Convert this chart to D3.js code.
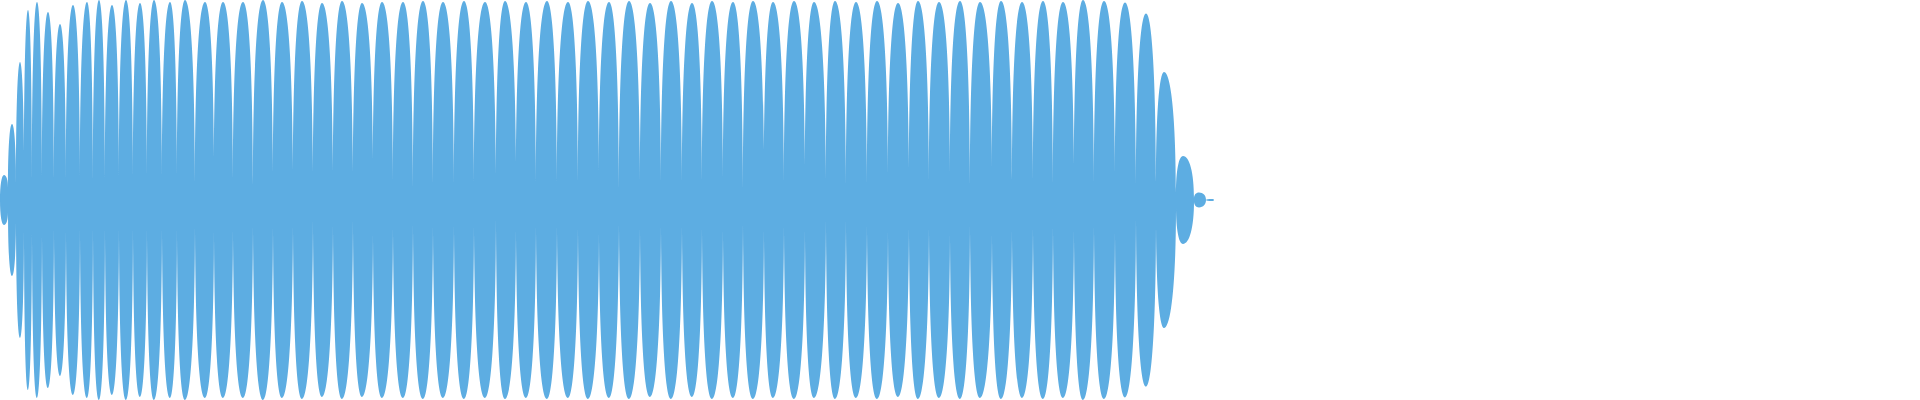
<!DOCTYPE html>
<html><head><meta charset="utf-8">
<script src="https://cdn.jsdelivr.net/npm/d3@7"></script>
<style>html,body{margin:0;padding:0;background:#fff;overflow:hidden}</style>
</head><body><svg id="chart" width="1920" height="400"></svg>
<script>
// Waveform: sample column of each trough (lobe boundary) and of each lobe peak,
// with normalised amplitude (0..1) at those points.
const troughX = [0, 8, 16, 24, 32, 42, 54, 66, 80, 93, 105, 119, 133, 147, 162, 177, 195,
  214, 233, 253, 273, 293, 313, 333, 353, 373, 393,
  413, 433, 454, 474, 496, 516, 536, 557, 578, 599, 619, 640, 661, 682, 702, 723,
  743, 764, 784, 805, 826, 846, 867, 888, 909, 929, 950, 970, 992, 1012, 1033, 1053,
  1074, 1094, 1115, 1136, 1156, 1176, 1194, 1206, 1214];
const troughAmp = [0, 0.06, 0.08, 0.1, 0.09, 0.1, 0.08, 0.1, 0.09, 0.085, 0.08, 0.09, 0.08, 0.085, 0.08, 0.09, 0.08,
  0.117, 0.1, 0.075, 0.08, 0.07, 0.06, 0.065, 0.06, 0.13, 0.085,
  0.058, 0.075, 0.067, 0.075, 0.05, 0.1, 0.075, 0.075, 0.087, 0.13, 0.05, 0.087, 0.075, 0.075, 0.09, 0.1,
  0.053, 0.1, 0.075, 0.1, 0.058, 0.058, 0.067, 0.117, 0.083, 0.083, 0.13, 0.067, 0.13, 0.1, 0.083, 0.075,
  0.1, 0.07, 0.12, 0.055, 0.09, 0.035, 0.008, 0, 0];
const peakX = [4, 12, 20, 28, 37, 48, 60, 73, 87, 99, 112, 126, 140, 154, 170, 185,
  205, 223, 243, 263, 282, 302, 322, 342, 362, 382,
  403, 423, 443, 464, 485, 505, 526, 547, 568, 588, 609, 629, 650, 671, 692, 712,
  733, 753, 773, 794, 814, 835, 856, 877, 898, 918, 939, 960, 980, 1001, 1022, 1043,
  1063, 1083, 1104, 1125, 1146, 1164, 1183, 1199, 1212];
const peakAmp = [0.125, 0.38, 0.69, 0.95, 0.99, 0.94, 0.88, 0.975, 0.99, 1.0, 0.975, 1.0, 0.985, 1.0, 0.99, 1.0,
  0.99, 0.99, 0.99, 1.0, 0.99, 0.995, 0.985, 0.995, 0.985, 0.99,
  0.99, 0.995, 0.99, 0.995, 0.99, 0.995, 0.99, 0.995, 0.99, 0.995, 0.99, 0.995, 0.985, 0.995, 0.985, 0.995,
  0.99, 0.995, 0.99, 0.995, 0.99, 0.995, 0.99, 0.995, 0.985, 0.995, 0.99, 0.995, 0.99, 0.995, 0.99, 0.995,
  0.99, 1.0, 0.995, 0.987, 0.933, 0.64, 0.22, 0.037, 0.005];

const W = 1920, H = 400;
const svg = d3.select('#chart');
const x = d3.scaleLinear().domain([0, 1920]).range([0, W]);
const y = d3.scaleLinear().domain([-1, 1]).range([H, 0]);
const K = 0.6;

const p = d3.path();
const n = peakX.length;
p.moveTo(x(troughX[0]), y(0));
for (let i = 0; i < n; i++) {
  const xL = x(troughX[i]), xP = x(peakX[i]), xR = x(troughX[i + 1]);
  const yL = y(troughAmp[i]), yP = y(peakAmp[i]), yR = y(troughAmp[i + 1]);
  p.lineTo(xL, yL);
  p.bezierCurveTo(xL, yL + K * (yP - yL), xP - K * (xP - xL), yP, xP, yP);
  p.bezierCurveTo(xP + K * (xR - xP), yP, xR, yR + K * (yP - yR), xR, yR);
}
p.lineTo(x(troughX[n]), y(-troughAmp[n]));
for (let i = n - 1; i >= 0; i--) {
  const xL = x(troughX[i]), xP = x(peakX[i]), xR = x(troughX[i + 1]);
  const yL = y(-troughAmp[i]), yP = y(-peakAmp[i]), yR = y(-troughAmp[i + 1]);
  p.lineTo(xR, yR);
  p.bezierCurveTo(xR, yR + K * (yP - yR), xP + K * (xR - xP), yP, xP, yP);
  p.bezierCurveTo(xP - K * (xP - xL), yP, xL, yL + K * (yP - yL), xL, yL);
}
p.closePath();

svg.append('path').attr('d', p.toString()).attr('fill', '#5dade2');
</script></body></html>
